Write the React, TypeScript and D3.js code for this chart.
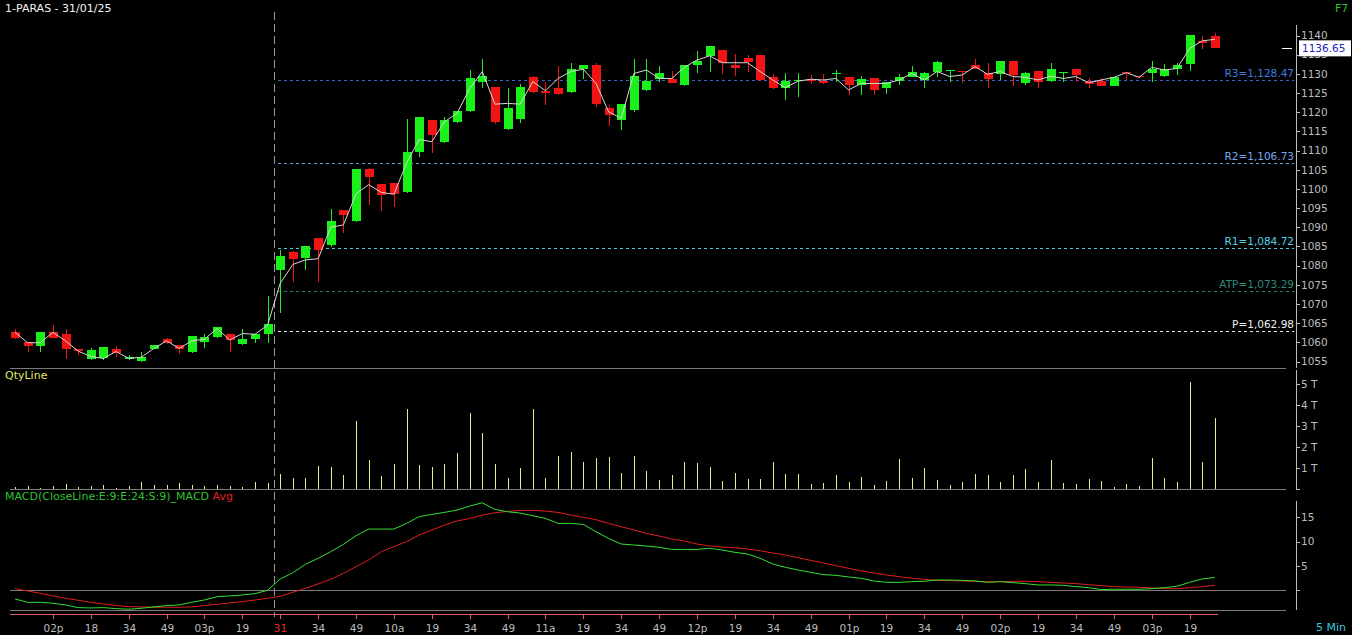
import React from 'react';
import * as d3 from 'd3';

// 5 min candles, 30/01 afternoon (21) + 31/01 full session (75)
const opens = [
  1062.6, 1060.0, 1059.0, 1062.6, 1062.3, 1058.2, 1055.6, 1055.8, 1058.2, 1055.6, 1055.2, 1058.2, 1060.9, 1059.2, 1057.4, 1060.0, 1061.3, 1062.1, 1059.5, 1060.8, 1062.1,
  1078.8, 1083.5, 1082.0, 1087.1, 1085.4, 1094.5, 1091.6, 1105.2, 1101.3, 1101.6, 1099.2, 1109.7, 1118.0, 1112.3, 1117.5, 1120.4, 1127.8, 1126.7, 1115.5, 1118.1,
  1129.3, 1125.6, 1126.4, 1125.3, 1131.3, 1132.3, 1121.2, 1118.0, 1120.6, 1125.8, 1128.6, 1128.6, 1127.1, 1132.3, 1134.7, 1136.2, 1132.3, 1134.1, 1135.0, 1129.3,
  1126.4, 1128.2, 1128.7, 1128.2, 1129.9, 1129.3, 1127.1, 1128.8, 1126.2, 1128.1, 1129.3, 1128.4, 1130.6, 1130.7, 1130.7, 1132.3, 1130.3, 1129.9, 1133.3, 1127.5,
  1130.8, 1128.2, 1130.1, 1131.2, 1128.1, 1128.1, 1126.9, 1130.4, 1129.4, 1130.3, 1129.4, 1131.3, 1132.5, 1138.6, 1139.9,
];
const highs = [
  1063.4, 1060.2, 1062.6, 1064.5, 1063.6, 1058.2, 1058.6, 1058.9, 1059.0, 1056.7, 1057.4, 1059.2, 1061.1, 1059.3, 1061.7, 1062.3, 1064.1, 1062.1, 1063.6, 1062.3, 1072.1,
  1084.1, 1083.7, 1085.1, 1087.1, 1094.7, 1094.5, 1105.2, 1105.4, 1101.3, 1101.6, 1118.2, 1118.7, 1118.0, 1118.8, 1120.3, 1131.0, 1133.8, 1126.7, 1126.2, 1127.3,
  1129.4, 1127.8, 1132.1, 1132.9, 1132.3, 1132.9, 1121.9, 1122.1, 1133.9, 1133.9, 1132.0, 1130.7, 1132.3, 1136.0, 1137.3, 1136.2, 1135.2, 1134.9, 1135.0, 1130.0,
  1130.3, 1130.1, 1129.7, 1130.0, 1131.0, 1129.3, 1129.4, 1128.8, 1128.0, 1129.9, 1132.0, 1130.6, 1133.4, 1131.0, 1130.7, 1133.8, 1132.7, 1133.3, 1133.3, 1130.6,
  1130.8, 1132.9, 1130.4, 1131.2, 1128.8, 1128.8, 1129.3, 1130.6, 1129.4, 1133.3, 1132.6, 1132.7, 1140.1, 1139.9, 1140.7,
];
const lows = [
  1060.8, 1057.6, 1057.6, 1061.0, 1055.6, 1056.8, 1055.4, 1055.5, 1056.1, 1055.5, 1055.0, 1058.2, 1059.5, 1056.9, 1057.2, 1058.5, 1061.0, 1057.6, 1059.4, 1059.9, 1059.9,
  1067.6, 1075.8, 1078.9, 1075.8, 1084.9, 1088.4, 1091.4, 1095.8, 1094.3, 1095.2, 1099.0, 1108.2, 1109.4, 1112.1, 1117.1, 1120.1, 1126.4, 1116.8, 1115.4, 1117.3,
  1125.1, 1121.9, 1124.5, 1125.1, 1128.6, 1121.3, 1116.4, 1115.4, 1120.1, 1125.6, 1128.0, 1127.5, 1126.8, 1130.1, 1130.6, 1130.0, 1129.4, 1130.6, 1128.2, 1126.0,
  1123.2, 1124.0, 1127.4, 1127.3, 1128.0, 1124.5, 1124.5, 1124.5, 1124.7, 1127.1, 1129.3, 1126.4, 1129.3, 1128.0, 1127.5, 1131.3, 1126.4, 1128.4, 1126.9, 1127.2,
  1126.2, 1128.0, 1128.0, 1128.0, 1126.2, 1126.9, 1126.8, 1128.4, 1128.9, 1128.0, 1129.1, 1129.7, 1130.8, 1136.4, 1136.9,
];
const closes = [
  1061.0, 1059.0, 1062.6, 1061.0, 1058.2, 1057.8, 1057.9, 1058.9, 1057.1, 1056.1, 1056.1, 1059.2, 1059.8, 1058.2, 1061.7, 1061.3, 1063.9, 1060.6, 1060.8, 1062.1, 1064.9,
  1082.5, 1081.6, 1085.1, 1084.1, 1091.6, 1093.2, 1105.2, 1103.2, 1098.5, 1098.7, 1109.6, 1118.7, 1114.1, 1118.0, 1120.3, 1128.8, 1129.5, 1117.5, 1121.2, 1126.7,
  1125.3, 1124.9, 1124.7, 1131.3, 1132.3, 1122.1, 1119.3, 1122.1, 1129.4, 1128.1, 1130.3, 1127.7, 1132.3, 1133.3, 1137.3, 1132.9, 1131.6, 1133.2, 1128.4, 1126.4,
  1128.1, 1128.4, 1128.2, 1127.5, 1130.3, 1127.1, 1128.6, 1125.8, 1128.0, 1129.1, 1130.4, 1130.1, 1133.0, 1131.0, 1130.5, 1131.3, 1128.7, 1133.3, 1129.7, 1130.3,
  1128.0, 1131.2, 1130.4, 1129.7, 1127.3, 1126.9, 1129.3, 1130.1, 1129.1, 1131.3, 1131.2, 1132.3, 1140.1, 1138.1, 1136.65,
];
// white "close line" as drawn on the chart
const closeLine = [
  1062.6, 1059.9, 1059.9, 1062.6, 1060.4, 1057.7, 1056.3, 1055.8, 1057.6, 1055.8, 1056.1, 1058.4, 1060.4, 1058.4, 1060.4, 1060.8, 1063.6, 1060.6, 1062.3, 1062.1, 1064.5,
  1075.4, 1080.3, 1081.5, 1081.8, 1090.0, 1090.6, 1098.7, 1101.1, 1099.1, 1098.6, 1106.7, 1112.9, 1112.3, 1117.5, 1119.7, 1126.2, 1130.6, 1122.1, 1122.3, 1122.1,
  1128.0, 1125.6, 1128.8, 1130.6, 1131.2, 1127.5, 1120.1, 1118.4, 1130.1, 1131.0, 1128.8, 1128.8, 1131.7, 1133.6, 1134.7, 1132.9, 1132.9, 1132.9, 1130.6, 1128.4,
  1126.4, 1128.1, 1128.6, 1128.4, 1128.8, 1125.8, 1127.5, 1127.5, 1127.5, 1128.4, 1130.1, 1128.4, 1130.6, 1129.3, 1129.7, 1131.9, 1129.9, 1130.6, 1129.3, 1129.1,
  1128.4, 1129.4, 1128.8, 1129.3, 1127.7, 1128.4, 1129.1, 1130.3, 1129.1, 1131.7, 1131.0, 1131.4, 1136.6, 1138.6, 1139.0,
];
// quantity in T (thousands)
const volumes = [
  0.08, 0.13, 0.03, 0.13, 0.22, 0.08, 0.13, 0.18, 0.03, 0.13, 0.32, 0.18, 0.18, 0.27, 0.18, 0.13, 0.18, 0.13, 0.08, 0.32, 0.27,
  0.70, 0.51, 0.51, 1.08, 1.04, 0.65, 3.24, 1.37, 0.61, 1.18, 3.81, 1.13, 1.04, 1.18, 1.71, 3.62, 2.66, 1.18, 0.51, 0.99,
  3.81, 0.51, 1.56, 1.75, 1.28, 1.47, 1.52, 0.75, 1.56, 0.85, 0.41, 0.65, 1.28, 1.23, 1.04, 0.37, 0.75, 0.46, 0.46, 1.28,
  0.70, 0.70, 0.22, 0.27, 0.65, 0.32, 0.56, 0.18, 0.37, 1.42, 0.51, 0.99, 0.41, 0.18, 0.32, 0.70, 0.65, 0.32, 0.65, 0.94,
  0.32, 1.37, 0.27, 0.22, 0.46, 0.37, 0.08, 0.22, 0.13, 1.47, 0.51, 0.32, 5.10, 1.28, 3.38,
];
const macdValues = [
  -1.78, -2.47, -2.47, -2.67, -3.01, -3.56, -3.63, -3.56, -3.77, -3.90, -3.70, -3.42, -3.15, -3.01, -2.47, -1.99, -1.30, -1.16, -0.96, -0.68, 0.0,
  2.33, 3.63, 5.34, 6.58, 7.95, 9.45, 11.23, 12.6, 12.6, 12.6, 13.77, 15.14, 15.62, 16.03, 16.51, 17.33, 18.01, 16.64, 16.16, 15.89,
  15.34, 14.79, 13.77, 13.77, 13.56, 12.05, 10.68, 9.52, 9.32, 9.11, 8.84, 8.42, 8.42, 8.42, 8.63, 8.29, 7.81, 7.47, 6.58, 5.41,
  4.73, 4.18, 3.70, 3.22, 3.08, 2.74, 2.47, 1.92, 1.64, 1.64, 1.78, 1.85, 2.12, 2.12, 2.05, 1.92, 1.64, 1.78, 1.58, 1.37,
  1.10, 1.10, 1.03, 0.75, 0.55, 0.14, 0.21, 0.21, 0.21, 0.34, 0.55, 0.82, 1.64, 2.33, 2.67,
];
const signalValues = [
  0.34, -0.14, -0.62, -1.16, -1.64, -2.05, -2.47, -2.81, -3.15, -3.36, -3.42, -3.49, -3.49, -3.49, -3.42, -3.15, -2.88, -2.60, -2.33, -1.99, -1.64,
  -1.23, -0.41, 0.41, 1.30, 2.26, 3.49, 4.86, 6.23, 7.95, 8.97, 10.0, 11.37, 12.4, 13.42, 14.25, 14.79, 15.48, 15.96, 16.23, 16.44,
  16.44, 16.30, 16.03, 15.48, 15.0, 14.52, 13.77, 13.08, 12.4, 11.71, 11.16, 10.55, 10.14, 9.52, 9.11, 8.90, 8.77, 8.49, 8.15, 7.67,
  7.26, 6.71, 6.16, 5.62, 5.07, 4.52, 3.97, 3.56, 3.15, 2.81, 2.47, 2.26, 2.05, 1.99, 1.92, 1.85, 1.78, 1.78, 1.85, 1.85,
  1.78, 1.64, 1.51, 1.37, 1.16, 0.96, 0.75, 0.68, 0.62, 0.48, 0.34, 0.34, 0.55, 0.75, 1.03,
];

const timeLabels = ['02p', '18', '34', '49', '03p', '19', '31', '34', '49', '10a', '19', '34', '49', '11a', '19', '34', '49',
  '12p', '19', '34', '49', '01p', '19', '34', '49', '02p', '19', '34', '49', '03p', '19'];
const priceTicks = [1140, 1135, 1130, 1125, 1120, 1115, 1110, 1105, 1100, 1095, 1090, 1085, 1080, 1075, 1070, 1065, 1060, 1055];
const qtyTicks = [0, 1, 2, 3, 4, 5];
const macdTicks = [0, 5, 10, 15];

const pivotNames = ['R3', 'R2', 'R1', 'ATP', 'P'];
const pivotValues = [1128.47, 1106.73, 1084.72, 1073.29, 1062.98];
const lastPrice = 1136.65;
const dayStart = 21;

const pivotLine: Record<string, string> = { R3: '#3d63c8', R2: '#6f9ae0', R1: '#4cc6dc', ATP: '#2a7d72', P: '#e8e8e8' };
const pivotText: Record<string, string> = { R3: '#3f7be0', R2: '#78a6ee', R1: '#52d4e6', ATP: '#2d8a7e', P: '#f0f0f0' };

const UP = '#1af01a';
const DOWN = '#f01414';
const AXIS = '#bdbdbd';
const GRID = '#7a7a7a';
const FONT = 'DejaVu Sans';

export default function App() {
  const x = d3.scaleLinear().domain([0, closes.length - 1]).range([15, 1214.85]);
  const yP = d3.scaleLinear().domain([1055, 1140]).range([361.5, 35.5]);
  const yV = d3.scaleLinear().domain([0, 5]).range([488.7, 384.2]);
  const yM = d3.scaleLinear().domain([0, 15]).range([590.3, 517.4]);

  const axisX = 1296;
  const panelLeft = 10;
  const panelRight = 1286;
  const bodyW = 9;

  const closePath = d3.line<number>().x((_, i) => x(i)).y(d => yP(d))(closeLine) || '';
  const macdPath = d3.line<number>().x((_, i) => x(i)).y(d => yM(d))(macdValues) || '';
  const sigPath = d3.line<number>().x((_, i) => x(i)).y(d => yM(d))(signalValues) || '';

  const sepX = Math.round(x(dayStart - 0.5)) + 0.5;
  const lastY = yP(lastPrice);

  return (
    <svg width={1352} height={635} style={{ position: 'fixed', left: 0, top: 0, background: '#000', display: 'block' }}
      fontFamily={FONT}>
      <rect x={0} y={0} width={1352} height={635} fill="#000" />

      {/* header */}
      <text x={5} y={12} fill="#f2f2f2" fontSize={11}>1-PARAS - 31/01/25</text>
      <text x={1335} y={12} fill="#2fc22f" fontSize={11}>F7</text>

      {/* day separator */}
      <line x1={sepX} x2={sepX} y1={12} y2={617} stroke="#9a9a9a" strokeDasharray="8,4" />

      {/* panel borders */}
      <g stroke={GRID} shapeRendering="crispEdges">
        <line x1={panelLeft} x2={panelRight} y1={368.5} y2={368.5} />
        <line x1={panelLeft} x2={panelRight} y1={489.5} y2={489.5} />
        <line x1={panelLeft} x2={panelRight} y1={Math.round(yM(0)) + 0.5} y2={Math.round(yM(0)) + 0.5} />
        <line x1={panelLeft} x2={panelRight} y1={610.5} y2={610.5} />
      </g>
      <line x1={panelLeft} x2={x(closes.length - 1) + 3} y1={614.5} y2={614.5} stroke="#e06060" shapeRendering="crispEdges" />

      {/* pivot levels */}
      {pivotNames.map((n, i) => {
        const yy = Math.round(yP(pivotValues[i])) + 0.5;
        return (
          <g key={n}>
            <line x1={x(dayStart - 0.5) + 4} x2={axisX - 2} y1={yy} y2={yy} stroke={pivotLine[n]} strokeDasharray="3,3"
              shapeRendering="crispEdges" />
            <text x={axisX - 2} y={yy - 4} textAnchor="end" fill={pivotText[n]} fontSize={10.5}>
              {n}={d3.format(',.2f')(pivotValues[i])}
            </text>
          </g>
        );
      })}

      {/* candles */}
      <g shapeRendering="crispEdges">
        {closes.map((c, i) => {
          const o = opens[i];
          const up = c >= o;
          const col = up ? UP : DOWN;
          const cx = Math.round(x(i)) + 0.5;
          const top = yP(Math.max(o, c));
          const bot = yP(Math.min(o, c));
          return (
            <g key={i}>
              <line x1={cx} x2={cx} y1={yP(highs[i])} y2={yP(lows[i])} stroke={col} />
              <rect x={cx - bodyW / 2} y={top} width={bodyW} height={Math.max(1, bot - top)} fill={col} />
            </g>
          );
        })}
      </g>
      <path d={closePath} fill="none" stroke="#d8d8d8" strokeWidth={1} />

      {/* price axis */}
      <line x1={axisX + 0.5} x2={axisX + 0.5} y1={25} y2={368} stroke={AXIS} />
      {priceTicks.map(t => (
        <g key={t}>
          <line x1={axisX} x2={axisX + 4} y1={Math.round(yP(t)) + 0.5} y2={Math.round(yP(t)) + 0.5} stroke={AXIS} />
          <text x={axisX + 5} y={yP(t)} dy="0.36em" fill={AXIS} fontSize={10.5}>{t}</text>
        </g>
      ))}
      <line x1={1282} x2={1292} y1={Math.round(lastY) + 0.5} y2={Math.round(lastY) + 0.5} stroke="#ffffff" />
      <rect x={1299} y={lastY - 8} width={52} height={16} fill="#ffffff" />
      <text x={1302} y={lastY} dy="0.36em" fill="#2323b8" fontSize={10.5}>{lastPrice.toFixed(2)}</text>

      {/* quantity panel */}
      <text x={5} y={379} fill="#e4e46a" fontSize={11}>QtyLine</text>
      <g stroke="#ecec8c" shapeRendering="crispEdges">
        {volumes.map((v, i) => (
          <line key={i} x1={Math.round(x(i)) + 0.5} x2={Math.round(x(i)) + 0.5} y1={yV(0)} y2={yV(v)} />
        ))}
      </g>
      <line x1={axisX + 0.5} x2={axisX + 0.5} y1={370} y2={489} stroke={AXIS} />
      {qtyTicks.map(t => (
        <g key={t}>
          <line x1={axisX} x2={axisX + 4} y1={Math.round(yV(t)) + 0.5} y2={Math.round(yV(t)) + 0.5} stroke={AXIS} />
          {t > 0 && <text x={axisX + 5} y={yV(t)} dy="0.36em" fill={AXIS} fontSize={10.5}>{t} T</text>}
        </g>
      ))}

      {/* MACD panel */}
      <text x={5} y={500} fontSize={11}>
        <tspan fill="#2fc22f">MACD(CloseLine:E:9:E:24:S:9)_MACD</tspan>
        <tspan fill="#e02020"> Avg</tspan>
      </text>
      <path d={sigPath} fill="none" stroke="#e01e1e" strokeWidth={1} />
      <path d={macdPath} fill="none" stroke="#36e036" strokeWidth={1} />
      <line x1={axisX + 0.5} x2={axisX + 0.5} y1={501} y2={610} stroke={AXIS} />
      {macdTicks.map(t => (
        <g key={t}>
          <line x1={axisX} x2={axisX + 4} y1={Math.round(yM(t)) + 0.5} y2={Math.round(yM(t)) + 0.5} stroke={AXIS} />
          {t > 0 && <text x={axisX + 5} y={yM(t)} dy="0.36em" fill={AXIS} fontSize={10.5}>{t}</text>}
        </g>
      ))}

      {/* time axis */}
      {timeLabels.map((lab, k) => {
        const idx = (k + 1) * 3;
        const tx = Math.round(x(idx)) + 0.5;
        return (
          <g key={k}>
            <line x1={tx} x2={tx} y1={615} y2={619} stroke="#e06060" />
            <text x={tx} y={632} textAnchor="middle" fill={idx === dayStart ? '#e02828' : AXIS} fontSize={10.5}>{lab}</text>
          </g>
        );
      })}
      <text x={1316} y={631} fill="#3cc4e0" fontSize={11}>5 Min</text>
    </svg>
  );
}
